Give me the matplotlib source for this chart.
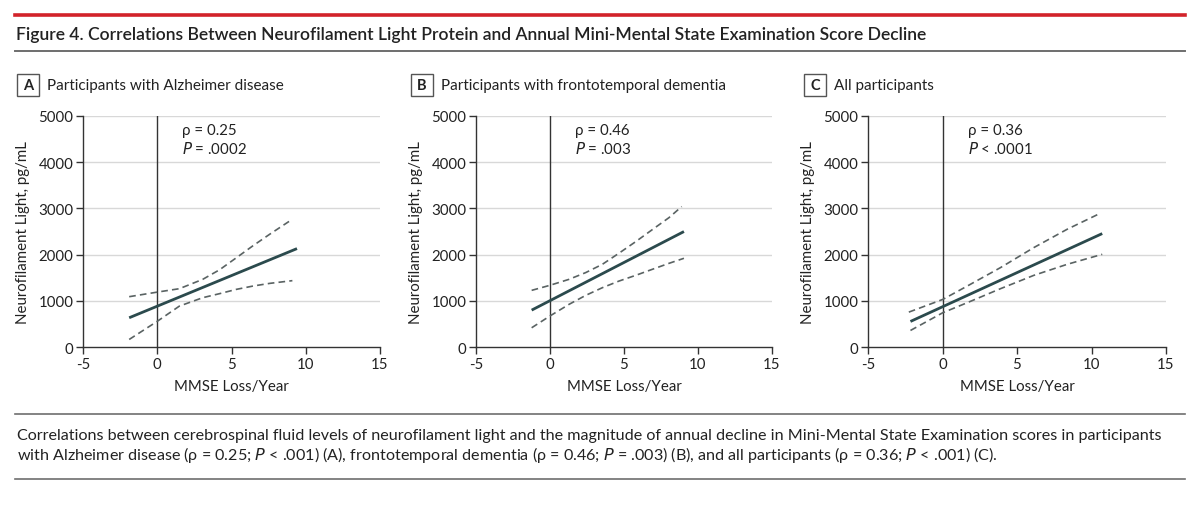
import matplotlib
matplotlib.use("Agg")
import matplotlib.pyplot as plt
from matplotlib.lines import Line2D
from matplotlib.patches import Rectangle

plt.rcParams['font.family'] = ['Lato', 'DejaVu Sans']

# panel A: Alzheimer disease
a_fit_x = [-1.89, 9.41]
a_fit_y = [633, 2130]
a_upper_x = [-1.89, 0.02, 1.49, 3.06, 4.19, 5.32, 6.44, 7.57, 9.1]
a_upper_y = [1089, 1189, 1262, 1464, 1670, 1930, 2190, 2440, 2766]
a_lower_x = [-1.89, 0.02, 1.49, 3.06, 4.19, 5.32, 6.44, 7.57, 9.1]
a_lower_y = [163, 560, 885, 1067, 1154, 1247, 1319, 1377, 1436]

# panel B: frontotemporal dementia
b_fit_x = [-1.24, 9.05]
b_fit_y = [798, 2499]
b_upper_x = [-1.24, -0.02, 1.28, 2.41, 3.54, 4.66, 5.79, 6.91, 8.04, 8.9]
b_upper_y = [1226, 1334, 1464, 1610, 1790, 2030, 2280, 2540, 2800, 3040]
b_lower_x = [-1.24, -0.02, 1.28, 2.41, 3.54, 4.66, 5.79, 6.91, 8.04, 9.05]
b_lower_y = [416, 668, 922, 1117, 1284, 1427, 1551, 1681, 1811, 1920]

# panel C: all participants
c_fit_x = [-2.15, 10.72]
c_fit_y = [553, 2455]
c_upper_x = [-2.26, 0.02, 1.66, 3.89, 6.13, 8.37, 10.6]
c_upper_y = [755, 1030, 1319, 1718, 2152, 2549, 2896]
c_lower_x = [-2.15, 0.02, 1.66, 3.89, 6.13, 8.37, 10.72]
c_lower_y = [358, 742, 959, 1262, 1551, 1790, 2006]

panel_letters = ["A", "B", "C"]
panel_titles = ["Participants with Alzheimer disease",
                "Participants with frontotemporal dementia",
                "All participants"]
rho_labels = ["0.25", "0.46", "0.36"]
p_labels = ["= .0002", "= .003", "< .0001"]
x_ticks = [-5, 0, 5, 10, 15]
x_tick_labels = ["-5", "0", "5", "10", "15"]
y_ticks = [0, 1000, 2000, 3000, 4000, 5000]

W, H = 1200, 506
fig = plt.figure(figsize=(12, 5.06), dpi=100)

def fx(px):
    return px / W

def fy(py):
    return 1 - py / H

# top red rule, title, grey rule
fig.add_artist(Line2D([fx(15), fx(1185)], [fy(16), fy(16)], color="#d2232a", lw=2.6))
fig.text(fx(16), fy(35), "Figure 4. Correlations Between Neurofilament Light Protein and Annual Mini-Mental State Examination Score Decline",
         fontsize=12.6, fontweight="semibold", color="#222222", va="center", ha="left")
fig.add_artist(Line2D([fx(15), fx(1185)], [fy(52), fy(52)], color="#6e6e6e", lw=1.4))

axes_left = [83, 476, 868]
axes_right = [380, 772, 1166]
box_left = [17, 411, 804]
fits = [(a_fit_x, a_fit_y), (b_fit_x, b_fit_y), (c_fit_x, c_fit_y)]
uppers = [(a_upper_x, a_upper_y), (b_upper_x, b_upper_y), (c_upper_x, c_upper_y)]
lowers = [(a_lower_x, a_lower_y), (b_lower_x, b_lower_y), (c_lower_x, c_lower_y)]

top_px, bot_px = 117, 348
line_col = "#2b4a4d"
dash_col = "#5a6363"

for i in range(3):
    l, r = axes_left[i], axes_right[i]
    ax = fig.add_axes([fx(l), fy(bot_px), (r - l) / W, (bot_px - top_px) / H])
    ax.set_xlim(-5, 15)
    ax.set_ylim(0, 5000)
    ax.set_xticks(x_ticks)
    ax.set_xticklabels(x_tick_labels)
    ax.set_yticks(y_ticks)
    for s in ["top", "right"]:
        ax.spines[s].set_visible(False)
    for s in ["left", "bottom"]:
        ax.spines[s].set_color("#333333")
        ax.spines[s].set_linewidth(1.0)
    ax.tick_params(length=5, width=1.0, color="#333333", labelsize=10.8,
                   labelcolor="#222222", pad=2)
    for yv in y_ticks[1:]:
        ax.axhline(yv, color="#d8d8d8", lw=1.0, zorder=0)
    ax.axvline(0, color="#333333", lw=1.0, zorder=1)

    ux, uy = uppers[i]
    lx, ly = lowers[i]
    fx_, fy_ = fits[i]
    ax.plot(ux, uy, color=dash_col, lw=1.2, dashes=(4, 2.5), zorder=2)
    ax.plot(lx, ly, color=dash_col, lw=1.2, dashes=(4, 2.5), zorder=2)
    ax.plot(fx_, fy_, color=line_col, lw=2.0, zorder=3, solid_capstyle="butt")

    ax.text(1.7, 4690, "ρ = " + rho_labels[i], fontsize=10.8, color="#222222", va="center")
    ax.text(1.7, 4310, "$\\mathit{P}$ " + p_labels[i], fontsize=10.8, color="#222222", va="center")

    ax.set_ylabel("Neurofilament Light, pg/mL", fontsize=10.8, color="#222222", labelpad=6)
    ax.set_xlabel("MMSE Loss/Year", fontsize=10.8, color="#222222", labelpad=6)

    # panel letter box and title
    b = box_left[i]
    fig.add_artist(Rectangle((fx(b), fy(97)), 22 / W, 22 / H, fill=False,
                             edgecolor="#555555", lw=1.0, transform=fig.transFigure))
    fig.text(fx(b + 11), fy(86), panel_letters[i], fontsize=10.5, fontweight="bold",
             ha="center", va="center", color="#222222")
    fig.text(fx(b + 30), fy(86), panel_titles[i], fontsize=11, ha="left", va="center",
             color="#222222")

# caption
fig.add_artist(Line2D([fx(15), fx(1185)], [fy(415), fy(415)], color="#6e6e6e", lw=1.2))
fig.text(fx(17), fy(436), "Correlations between cerebrospinal fluid levels of neurofilament light and the magnitude of annual decline in Mini-Mental State Examination scores in participants",
         fontsize=11.6, ha="left", va="center", color="#222222")
fig.text(fx(17), fy(455), "with Alzheimer disease (ρ = 0.25; $\\mathit{P}$ < .001) (A), frontotemporal dementia (ρ = 0.46; $\\mathit{P}$ = .003) (B), and all participants (ρ = 0.36; $\\mathit{P}$ < .001) (C).",
         fontsize=11.6, ha="left", va="center", color="#222222")
fig.add_artist(Line2D([fx(15), fx(1185)], [fy(480), fy(480)], color="#6e6e6e", lw=1.2))

fig.savefig("out.png", dpi=100)
